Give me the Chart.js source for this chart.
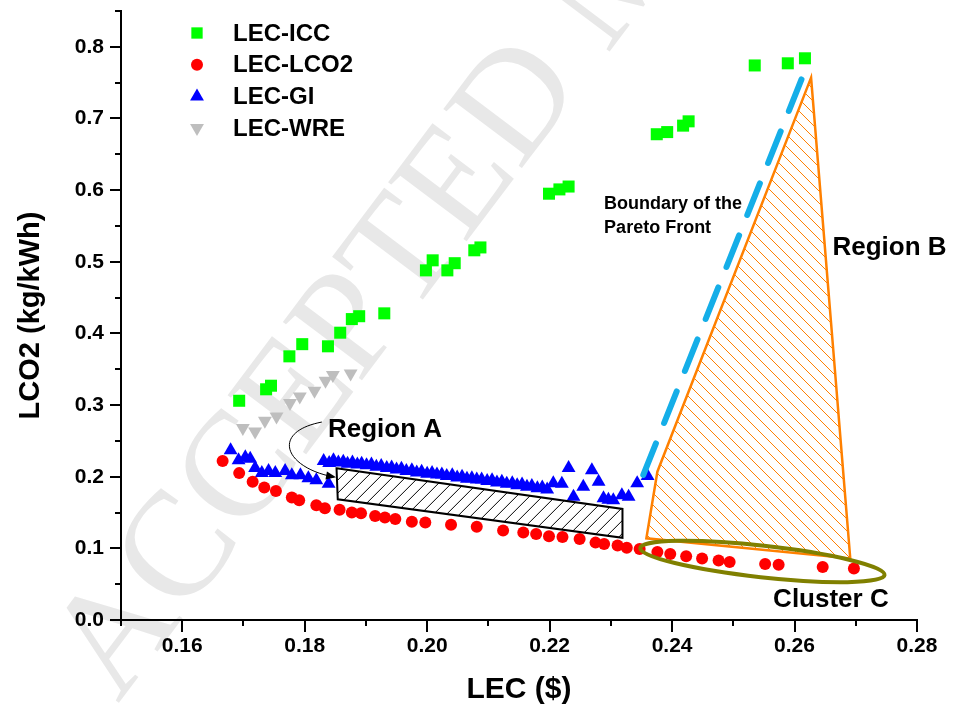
<!DOCTYPE html>
<html lang="en">
<head>
<meta charset="UTF-8" />
<title>LEC vs LCO2</title>
<script src="https://cdn.jsdelivr.net/npm/chart.js"></script>
<style>
  html, body { margin: 0; padding: 0; background: #fff; }
  .chart-box { width: 953px; height: 712px; position: relative; }
</style>
</head>
<body>
<div class="chart-box"><canvas id="paretoChart"></canvas></div>
<script>
// LEC-ICC (green squares)
const iccLec  = [0.1693, 0.1737, 0.1745, 0.1775, 0.1796, 0.1838, 0.1858, 0.1877, 0.1889, 0.1930,
                 0.1998, 0.2009, 0.2033, 0.2045, 0.2077, 0.2087, 0.2199, 0.2216, 0.2231,
                 0.2375, 0.2392, 0.2418, 0.2427, 0.2535, 0.2589, 0.2617];
const iccLco2 = [0.306, 0.322, 0.327, 0.368, 0.385, 0.382, 0.401, 0.420, 0.424, 0.428,
                 0.488, 0.502, 0.488, 0.498, 0.516, 0.520, 0.595, 0.601, 0.605,
                 0.678, 0.681, 0.690, 0.696, 0.774, 0.777, 0.784];

// LEC-LCO2 (red circles)
const lco2Lec  = [0.1666, 0.1693, 0.1715, 0.1734, 0.1753, 0.1779, 0.1791, 0.1819, 0.1833, 0.1857,
                  0.1877, 0.1892, 0.1915, 0.1931, 0.1948, 0.1975, 0.1997, 0.2039, 0.2081, 0.2124,
                  0.2157, 0.2178, 0.2199, 0.2221, 0.2249, 0.2275, 0.2289, 0.2311, 0.2326, 0.2347,
                  0.2376, 0.2397, 0.2423, 0.2449, 0.2476, 0.2494, 0.2552, 0.2574, 0.2646, 0.2697];
const lco2Lco2 = [0.222, 0.205, 0.193, 0.185, 0.180, 0.171, 0.167, 0.160, 0.156, 0.154,
                  0.150, 0.149, 0.145, 0.143, 0.141, 0.137, 0.136, 0.133, 0.130, 0.125,
                  0.122, 0.120, 0.117, 0.116, 0.113, 0.108, 0.106, 0.104, 0.101, 0.099,
                  0.095, 0.092, 0.089, 0.086, 0.083, 0.081, 0.078, 0.077, 0.074, 0.072];

// LEC-GI (blue triangles)
const giLec  = [0.1679, 0.1692, 0.1703, 0.1711, 0.1719, 0.1730, 0.1741, 0.1752, 0.1768, 0.1779,
                0.1793, 0.1806, 0.1819, 0.1839,
                0.1831, 0.1840, 0.1847, 0.1855, 0.1863, 0.1870, 0.1878, 0.1886, 0.1893, 0.1901,
                0.1909, 0.1917, 0.1925, 0.1934, 0.1942, 0.1950, 0.1958, 0.1966, 0.1975, 0.1983,
                0.1991, 0.2000, 0.2008, 0.2016, 0.2024, 0.2032, 0.2041, 0.2049, 0.2057, 0.2065,
                0.2073, 0.2081, 0.2089, 0.2098, 0.2106, 0.2114, 0.2122, 0.2130, 0.2139, 0.2147,
                0.2155, 0.2163, 0.2171, 0.2180, 0.2188, 0.2196,
                0.2206, 0.2220, 0.2231, 0.2239, 0.2255, 0.2269, 0.2280, 0.2288, 0.2296, 0.2304,
                0.2318, 0.2329, 0.2343, 0.2360];
const giLco2 = [0.237, 0.223, 0.227, 0.225, 0.212, 0.205, 0.208, 0.205, 0.208, 0.202,
                0.202, 0.198, 0.195, 0.190,
                0.222, 0.219, 0.223, 0.220, 0.221, 0.218, 0.220, 0.217, 0.218, 0.216,
                0.217, 0.214, 0.215, 0.212, 0.213, 0.210, 0.211, 0.208, 0.209, 0.206,
                0.207, 0.204, 0.205, 0.203, 0.203, 0.201, 0.202, 0.199, 0.200, 0.197,
                0.198, 0.196, 0.196, 0.194, 0.195, 0.192, 0.193, 0.190, 0.191, 0.188,
                0.189, 0.186, 0.187, 0.184, 0.185, 0.182,
                0.191, 0.190, 0.212, 0.172, 0.186, 0.209, 0.193, 0.170, 0.168, 0.167,
                0.174, 0.172, 0.191, 0.201];

// LEC-WRE (grey down triangles)
const wreLec  = [0.1699, 0.1719, 0.1735, 0.1754, 0.1776, 0.1792, 0.1816, 0.1834, 0.1846, 0.1875];
const wreLco2 = [0.268, 0.263, 0.278, 0.284, 0.303, 0.312, 0.320, 0.334, 0.342, 0.344];

// tick labels
const xTickValues = [0.16, 0.18, 0.20, 0.22, 0.24, 0.26, 0.28];
const yTickValues = [0.0, 0.1, 0.2, 0.3, 0.4, 0.5, 0.6, 0.7, 0.8];

// annotation shapes (data units)
const regionA = [[0.1852, 0.2117], [0.2319, 0.155], [0.2319, 0.1148], [0.1854, 0.1684]];
const regionB = [[0.2627, 0.757], [0.2691, 0.086], [0.2358, 0.114], [0.2376, 0.207]];
const paretoLine = [[0.2353, 0.2024], [0.2620, 0.773]];
const clusterC = { left: [0.2348, 0.1005], right: [0.2747, 0.0628], halfWidth: 0.022 };
const arrowA = [[0.1828, 0.2763], [0.1743, 0.2623], [0.1768, 0.2121], [0.1848, 0.1996]];

const FONT = '"Liberation Sans", Arial, Helvetica, sans-serif';

function pairs(xs, ys) {
    return xs.map((x, i) => ({ x: x, y: ys[i] }));
}

function px(chart, p) {
    return { x: chart.scales.x.getPixelForValue(p[0]), y: chart.scales.y.getPixelForValue(p[1]) };
}

function hatchPolygon(ctx, pts, opts) {
    ctx.save();
    ctx.beginPath();
    pts.forEach((p, i) => i ? ctx.lineTo(p.x, p.y) : ctx.moveTo(p.x, p.y));
    ctx.closePath();
    if (opts.fill) {
        ctx.fillStyle = opts.fill;
        ctx.fill();
    }
    ctx.save();
    ctx.clip();
    const xs = pts.map(p => p.x), ys = pts.map(p => p.y);
    const minX = Math.min(...xs), maxX = Math.max(...xs);
    const minY = Math.min(...ys), maxY = Math.max(...ys);
    const h = maxY - minY;
    ctx.beginPath();
    for (let x0 = minX - h; x0 <= maxX + h; x0 += opts.spacing) {
        if (opts.forward) {
            ctx.moveTo(x0, maxY);
            ctx.lineTo(x0 + h, minY);
        } else {
            ctx.moveTo(x0, minY);
            ctx.lineTo(x0 + h, maxY);
        }
    }
    ctx.strokeStyle = opts.color;
    ctx.lineWidth = 1;
    ctx.stroke();
    ctx.restore();
    ctx.beginPath();
    pts.forEach((p, i) => i ? ctx.lineTo(p.x, p.y) : ctx.moveTo(p.x, p.y));
    ctx.closePath();
    ctx.strokeStyle = opts.color;
    ctx.lineWidth = opts.lineWidth;
    ctx.lineJoin = 'miter';
    ctx.stroke();
    ctx.restore();
}

const annotations = {
    id: 'annotations',
    beforeDraw(chart) {
        // faint "accepted manuscript" watermark behind everything
        const ctx = chart.ctx;
        ctx.save();
        ctx.translate(118, 704);
        ctx.rotate(-53 * Math.PI / 180);
        ctx.font = '150px "Liberation Serif", "DejaVu Serif", serif';
        ctx.fillStyle = '#e8e8e8';
        ctx.textBaseline = 'alphabetic';
        ctx.fillText('ACCEPTED MANUSCRIPT', 0, 0);
        ctx.restore();
    },
    afterDatasetsDraw(chart) {
        const ctx = chart.ctx;

        // Region A
        hatchPolygon(ctx, regionA.map(p => px(chart, p)), {
            color: '#000', fill: '#fff', spacing: 13, forward: true, lineWidth: 2
        });

        // Pareto front boundary
        const a = px(chart, paretoLine[0]), b = px(chart, paretoLine[1]);
        ctx.save();
        ctx.strokeStyle = '#14aee8';
        ctx.lineWidth = 6;
        ctx.lineCap = 'round';
        ctx.setLineDash([34, 22]);
        ctx.beginPath();
        ctx.moveTo(a.x, a.y);
        ctx.lineTo(b.x, b.y);
        ctx.stroke();
        ctx.restore();

        // Region B
        hatchPolygon(ctx, regionB.map(p => px(chart, p)), {
            color: '#ff8000', fill: null, spacing: 12, forward: false, lineWidth: 2.5
        });

        // Cluster C ellipse
        const l = px(chart, clusterC.left), r = px(chart, clusterC.right);
        const cx = (l.x + r.x) / 2, cy = (l.y + r.y) / 2;
        const rx = Math.hypot(r.x - l.x, r.y - l.y) / 2;
        const ry = Math.abs(chart.scales.y.getPixelForValue(0) - chart.scales.y.getPixelForValue(clusterC.halfWidth));
        ctx.save();
        ctx.strokeStyle = '#808000';
        ctx.lineWidth = 4;
        ctx.beginPath();
        ctx.ellipse(cx, cy, rx, ry, Math.atan2(r.y - l.y, r.x - l.x), 0, Math.PI * 2);
        ctx.stroke();
        ctx.restore();

        // curved arrow to Region A
        const c = arrowA.map(p => px(chart, p));
        ctx.save();
        ctx.strokeStyle = '#000';
        ctx.fillStyle = '#000';
        ctx.lineWidth = 1;
        ctx.beginPath();
        ctx.moveTo(c[0].x, c[0].y);
        ctx.bezierCurveTo(c[1].x, c[1].y, c[2].x, c[2].y, c[3].x, c[3].y);
        ctx.stroke();
        const ang = Math.atan2(c[3].y - c[2].y, c[3].x - c[2].x);
        ctx.translate(c[3].x, c[3].y);
        ctx.rotate(ang);
        ctx.beginPath();
        ctx.moveTo(2, 0);
        ctx.lineTo(-8, -4);
        ctx.lineTo(-8, 4);
        ctx.closePath();
        ctx.fill();
        ctx.restore();

        // labels
        ctx.save();
        ctx.fillStyle = '#000';
        ctx.textBaseline = 'middle';
        ctx.textAlign = 'left';
        ctx.font = 'bold 26px ' + FONT;
        let t = px(chart, [0.1838, 0.265]);
        ctx.fillText('Region A', t.x, t.y);
        t = px(chart, [0.2662, 0.520]);
        ctx.fillText('Region B', t.x, t.y);
        t = px(chart, [0.2565, 0.028]);
        ctx.fillText('Cluster C', t.x, t.y);
        ctx.font = 'bold 18px ' + FONT;
        t = px(chart, [0.2289, 0.5805]);
        ctx.fillText('Boundary of the', t.x, t.y);
        t = px(chart, [0.2289, 0.547]);
        ctx.fillText('Pareto Front', t.x, t.y);
        ctx.restore();
    },
    afterDraw(chart) {
        const ctx = chart.ctx;
        const xs = chart.scales.x, ys = chart.scales.y;
        const isMajor = (list, v) => list.some(m => Math.abs(m - v) < 1e-6);

        // tick marks, major and minor
        ctx.save();
        ctx.strokeStyle = '#000';
        ctx.lineWidth = 2;
        ctx.beginPath();
        xs.ticks.forEach(tk => {
            const p = Math.round(xs.getPixelForValue(tk.value));
            ctx.moveTo(p, xs.top);
            ctx.lineTo(p, xs.top + (isMajor(xTickValues, tk.value) ? 12 : 6));
        });
        ys.ticks.forEach(tk => {
            const p = Math.round(ys.getPixelForValue(tk.value));
            ctx.moveTo(ys.right, p);
            ctx.lineTo(ys.right - (isMajor(yTickValues, tk.value) ? 11 : 6), p);
        });
        ctx.stroke();
        ctx.restore();

        // legend inside the plot
        const area = chart.chartArea;
        ctx.save();
        chart.data.datasets.forEach((ds, i) => {
            const y = area.top + 22 + i * 31.7;
            const x = area.left + 76;
            ctx.fillStyle = ds.backgroundColor;
            ctx.strokeStyle = ds.backgroundColor;
            if (Chart.helpers && Chart.helpers.drawPoint) {
                Chart.helpers.drawPoint(ctx, {
                    pointStyle: ds.pointStyle,
                    rotation: ds.rotation || 0,
                    radius: ds.legendRadius,
                    borderWidth: 0
                }, x, y);
            }
            ctx.fillStyle = '#000';
            ctx.font = 'bold 24px ' + FONT;
            ctx.textBaseline = 'middle';
            ctx.fillText(ds.label, area.left + 112, y + 1);
        });
        ctx.restore();
    }
};

new Chart(document.getElementById('paretoChart'), {
    type: 'scatter',
    data: {
        datasets: [{
            label: 'LEC-ICC',
            data: pairs(iccLec, iccLco2),
            pointStyle: 'rect',
            pointRadius: 8.5,
            legendRadius: 8,
            backgroundColor: '#00ff00',
            borderWidth: 0
        }, {
            label: 'LEC-LCO2',
            data: pairs(lco2Lec, lco2Lco2),
            pointStyle: 'circle',
            pointRadius: 6,
            legendRadius: 6,
            backgroundColor: '#ff0000',
            borderWidth: 0
        }, {
            label: 'LEC-GI',
            data: pairs(giLec, giLco2),
            pointStyle: 'triangle',
            pointRadius: 8,
            legendRadius: 8,
            backgroundColor: '#0000ff',
            borderWidth: 0
        }, {
            label: 'LEC-WRE',
            data: pairs(wreLec, wreLco2),
            pointStyle: 'triangle',
            rotation: 180,
            pointRadius: 8,
            legendRadius: 8,
            backgroundColor: '#bebebe',
            borderWidth: 0
        }]
    },
    options: {
        responsive: true,
        maintainAspectRatio: false,
        animation: false,
        layout: { padding: { top: 11, right: 36, left: 0, bottom: 0 } },
        plugins: {
            legend: { display: false },
            tooltip: { enabled: false }
        },
        scales: {
            x: {
                type: 'linear',
                min: 0.15,
                max: 0.28,
                afterFit: s => { s.height = 92; s.paddingLeft = 0; s.paddingRight = 0; },
                grid: { display: false, drawTicks: false },
                border: { display: true, color: '#000', width: 2 },
                ticks: {
                    stepSize: 0.01,
                    autoSkip: false,
                    maxRotation: 0,
                    padding: 16,
                    color: '#000',
                    font: { family: FONT, size: 21, weight: 'bold', lineHeight: 1 },
                    callback: v => {
                        const m = xTickValues.find(t => Math.abs(t - v) < 1e-6);
                        return m !== undefined ? m.toFixed(2) : '';
                    }
                },
                title: {
                    display: true,
                    text: 'LEC ($)',
                    color: '#000',
                    padding: { top: 0, bottom: 4 },
                    font: { family: FONT, size: 30, weight: 'bold' }
                }
            },
            y: {
                type: 'linear',
                min: 0,
                max: 0.85,
                afterFit: s => { s.width = 121; s.paddingTop = 0; s.paddingBottom = 0; },
                grid: { display: false, drawTicks: false },
                border: { display: true, color: '#000', width: 2 },
                ticks: {
                    stepSize: 0.05,
                    autoSkip: false,
                    padding: 17,
                    color: '#000',
                    font: { family: FONT, size: 21, weight: 'bold', lineHeight: 1 },
                    callback: v => {
                        const m = yTickValues.find(t => Math.abs(t - v) < 1e-6);
                        return m !== undefined ? m.toFixed(1) : '';
                    }
                },
                title: {
                    display: true,
                    text: 'LCO2 (kg/kWh)',
                    color: '#000',
                    padding: { top: 14, bottom: 0 },
                    font: { family: FONT, size: 29, weight: 'bold' }
                }
            }
        }
    },
    plugins: [annotations]
});
</script>
</body>
</html>
